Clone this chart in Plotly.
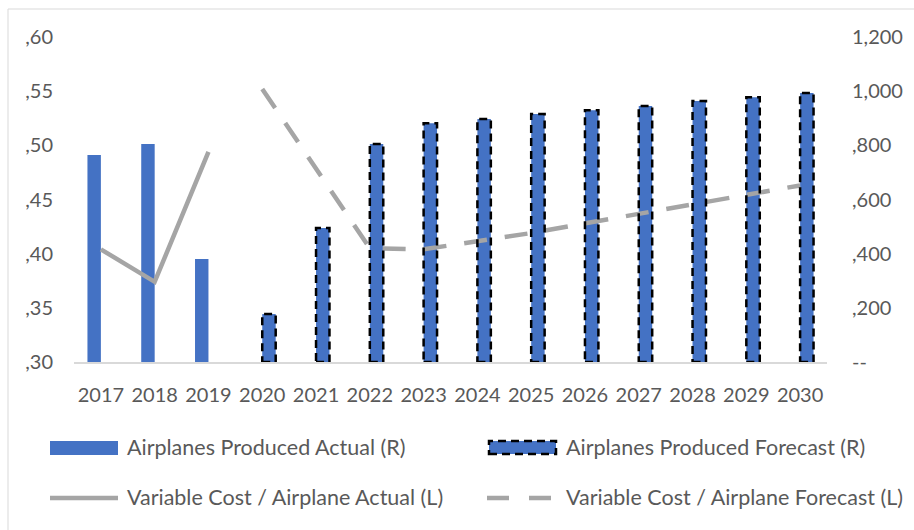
import plotly.graph_objects as go

# Categories and series values
years = ["2017", "2018", "2019", "2020", "2021", "2022", "2023",
         "2024", "2025", "2026", "2027", "2028", "2029", "2030"]
produced_actual = [764, 805, 380, None, None, None, None,
                   None, None, None, None, None, None, None]
produced_forecast = [None, None, None, 177, 495, 805, 882,
                     897, 916, 930, 945, 964, 978, 993]
cost_actual = [0.404, 0.374, 0.494, None, None, None, None,
               None, None, None, None, None, None, None]
cost_forecast = [None, None, None, 0.552, 0.478, 0.405, 0.404,
                 0.411, 0.419, 0.428, 0.437, 0.446, 0.454, 0.463]

# Axis tick labels
left_ticks = [0.30, 0.35, 0.40, 0.45, 0.50, 0.55, 0.60]
left_text = [",30", ",35", ",40", ",45", ",50", ",55", ",60"]
right_ticks = [0, 200, 400, 600, 800, 1000, 1200]
right_text = ["--", ",200", ",400", ",600", ",800", "1,000", "1,200"]

legend_names = ["Airplanes Produced Actual (R)",
                "Airplanes Produced Forecast (R)",
                "Variable Cost / Airplane Actual (L)",
                "Variable Cost / Airplane Forecast (L)"]

BLUE = "#4472c4"
GREY = "#a5a5a5"
TEXT = "#595959"
FONT = "Lato"

W, H = 914, 530
M_L, M_R, M_T, M_B = 74, 87, 37, 168
PW, PH = W - M_L - M_R, H - M_T - M_B

BAR_W = 0.25


def px(x):
    return (x - M_L) / PW


def py(y):
    return (H - M_B - y) / PH


fig = go.Figure()

# Bars sit on the primary (right-hand) axis
fig.add_trace(go.Bar(x=years, y=produced_actual, width=BAR_W, offset=-BAR_W,
                     marker=dict(color=BLUE, line=dict(width=0)),
                     name=legend_names[0], yaxis="y", showlegend=False))
fig.add_trace(go.Bar(x=years, y=produced_forecast, width=BAR_W, offset=0,
                     marker=dict(color=BLUE, line=dict(width=0)),
                     name=legend_names[1], yaxis="y", showlegend=False))

# Cost lines on the overlaid left-hand axis (drawn above the bars)
fig.add_trace(go.Scatter(x=years, y=cost_actual, mode="lines",
                         line=dict(color=GREY, width=4.5),
                         name=legend_names[2], yaxis="y2", showlegend=False))
fig.add_trace(go.Scatter(x=years, y=cost_forecast, mode="lines",
                         line=dict(color=GREY, width=4.5, dash="23px,18px"),
                         name=legend_names[3], yaxis="y2", showlegend=False))

shapes = []
# Dashed outlines around forecast bars
for i, v in enumerate(produced_forecast):
    if v is None:
        continue
    shapes.append(dict(type="rect", xref="x", yref="y",
                       x0=i, x1=i + BAR_W, y0=0, y1=v,
                       line=dict(color="black", width=2.5, dash="8px,5px"),
                       fillcolor="rgba(0,0,0,0)", layer="above"))

# Chart frame
shapes.append(dict(type="rect", xref="paper", yref="paper",
                   x0=px(8), x1=px(W + 20), y0=py(H + 20), y1=py(9),
                   line=dict(color="#d9d9d9", width=1), layer="below"))

# Legend swatches
row1, row2 = 447, 497
shapes.append(dict(type="rect", xref="paper", yref="paper",
                   x0=px(50), x1=px(118), y0=py(455), y1=py(441),
                   fillcolor=BLUE, line=dict(width=0)))
shapes.append(dict(type="rect", xref="paper", yref="paper",
                   x0=px(489), x1=px(556), y0=py(454), y1=py(441),
                   fillcolor=BLUE,
                   line=dict(color="black", width=2.5, dash="8px,5px")))
shapes.append(dict(type="line", xref="paper", yref="paper",
                   x0=px(50), x1=px(118), y0=py(498), y1=py(498),
                   line=dict(color=GREY, width=4.5)))
shapes.append(dict(type="line", xref="paper", yref="paper",
                   x0=px(487), x1=px(552), y0=py(498), y1=py(498),
                   line=dict(color=GREY, width=4.5, dash="22px,20px")))

annotations = []
for txt, x, y in [(legend_names[0], 125, row1), (legend_names[1], 564, row1),
                  (legend_names[2], 125, row2), (legend_names[3], 564, row2)]:
    annotations.append(dict(text=txt, xref="paper", yref="paper",
                            x=px(x), y=py(y), xanchor="left", yanchor="middle",
                            showarrow=False,
                            font=dict(family=FONT, size=21.5, color=TEXT)))

fig.update_layout(
    width=W, height=H,
    margin=dict(l=M_L, r=M_R, t=M_T, b=M_B, pad=0),
    paper_bgcolor="white", plot_bgcolor="white",
    barmode="overlay",
    shapes=shapes, annotations=annotations,
    xaxis=dict(type="category", categoryorder="array", categoryarray=years,
               range=[-0.5, len(years) - 0.5],
               showgrid=False, zeroline=False, showline=True,
               linecolor="#d9d9d9", linewidth=1.5, ticks="",
               ticklabelstandoff=14,
               tickfont=dict(family=FONT, size=20, color=TEXT)),
    yaxis=dict(side="right", range=[0, 1200], tickvals=right_ticks,
               ticktext=right_text, showgrid=False, zeroline=False,
               showline=False, ticks="", ticklabelstandoff=24,
               tickfont=dict(family=FONT, size=20, color=TEXT)),
    yaxis2=dict(side="left", overlaying="y", range=[0.30, 0.60],
                tickvals=left_ticks, ticktext=left_text, showgrid=False,
                zeroline=False, showline=False, ticks="",
                ticklabelstandoff=20,
                tickfont=dict(family=FONT, size=20, color=TEXT)),
)

fig.write_html("out.html")
